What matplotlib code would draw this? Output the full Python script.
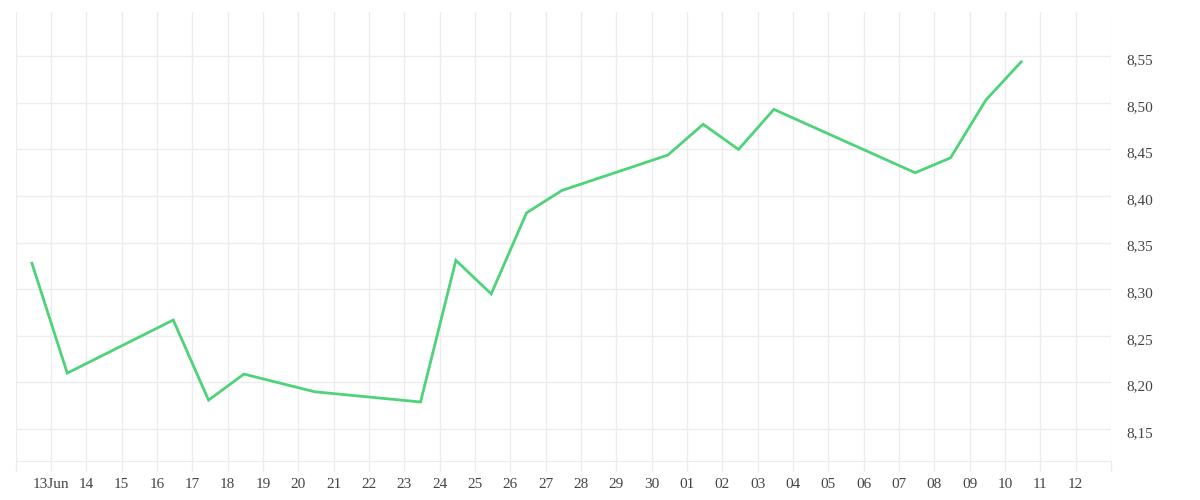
import datetime as dt
import matplotlib
matplotlib.use("Agg")
import matplotlib.pyplot as plt
import matplotlib.dates as mdates
import matplotlib.transforms as mtransforms
from matplotlib.ticker import FixedLocator, FuncFormatter

# daily readings (taken late morning each day)
dates = ["2023-06-12", "2023-06-13", "2023-06-16", "2023-06-17", "2023-06-18",
         "2023-06-20", "2023-06-23", "2023-06-24", "2023-06-25", "2023-06-26",
         "2023-06-27", "2023-06-30", "2023-07-01", "2023-07-02", "2023-07-03",
         "2023-07-07", "2023-07-08", "2023-07-09", "2023-07-10"]
values = [8.328, 8.210, 8.267, 8.181, 8.209,
          8.190, 8.179, 8.331, 8.295, 8.382,
          8.406, 8.444, 8.477, 8.450, 8.493,
          8.425, 8.441, 8.503, 8.544]
y_ticks = [8.15, 8.20, 8.25, 8.30, 8.35, 8.40, 8.45, 8.50, 8.55]

x = [dt.datetime.strptime(d, "%Y-%m-%d") + dt.timedelta(hours=11) for d in dates]

start = dt.datetime(2023, 6, 12)
end = dt.datetime(2023, 7, 13)
days = [start + dt.timedelta(days=i) for i in range((end - start).days + 1)]


def day_label(d):
    if d == start or d == end:
        return ""
    if d == start + dt.timedelta(days=1):
        return d.strftime("%d%b")
    return d.strftime("%d")


plt.rcParams['font.family'] = ['Liberation Serif', 'DejaVu Serif']
grid_col = "#ececec"

fig = plt.figure(figsize=(12, 5), dpi=100)
ax = fig.add_axes([0.0131, 0.078, 0.9127, 0.898])

ax.plot(x, values, color="#4ed27a", linewidth=2, solid_joinstyle="miter")

ax.set_xlim(start, end)
ax.set_ylim(8.1157, 8.5975)

ax.xaxis.set_major_locator(FixedLocator(mdates.date2num(days)))
ax.set_xticklabels([day_label(d) for d in days])
ax.yaxis.set_major_locator(FixedLocator(y_ticks))
ax.yaxis.set_major_formatter(FuncFormatter(lambda v, p: f"{v:.2f}".replace(".", ",")))

ax.yaxis.tick_right()
ax.tick_params(axis="y", length=0, pad=11, labelsize=11, labelcolor="#444444")
ax.tick_params(axis="x", length=7.5, width=1, color=grid_col, pad=5,
               labelsize=11, labelcolor="#444444")

# labels sit a little under their grid lines
shift = mtransforms.ScaledTranslation(0, -3 / 100, fig.dpi_scale_trans)
for lbl in ax.get_yticklabels():
    lbl.set_transform(lbl.get_transform() + shift)

ax.grid(True, color=grid_col, linewidth=1)
ax.set_axisbelow(True)
for side in ["top", "left", "right"]:
    ax.spines[side].set_visible(False)
ax.spines["bottom"].set_color(grid_col)

fig.savefig("out.png", dpi=100)
